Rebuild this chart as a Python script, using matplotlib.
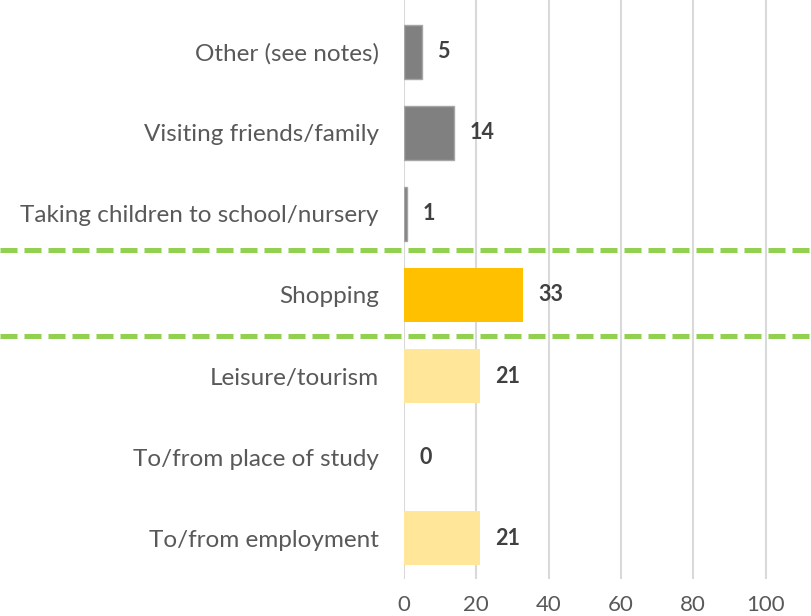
import matplotlib.pyplot as plt
import matplotlib.transforms as mtransforms

categories = ['To/from employment', 'To/from place of study', 'Leisure/tourism',
              'Shopping', 'Taking children to school/nursery',
              'Visiting friends/family', 'Other (see notes)']
values = [21, 0, 21, 33, 1, 14, 5]
colors = ['#FFE699', '#FFE699', '#FFE699', '#FFC000', '#808080', '#808080', '#808080']
edges = ['none', 'none', 'none', 'none', '#A6A6A6', '#A6A6A6', '#A6A6A6']
xticks = [0, 20, 40, 60, 80, 100]

plt.rcParams['font.family'] = ['Lato', 'DejaVu Sans']

fig = plt.figure(figsize=(8.12, 6.16), dpi=100)
ax = fig.add_axes([0.4972, 0.0607, 0.5028, 0.9393])

ypos = list(range(len(categories)))
ax.barh(ypos, values, height=0.66, color=colors, edgecolor=edges, linewidth=1, zorder=3)

for y, v in zip(ypos, values):
    ax.annotate(str(v), (v, y), xytext=(11, 0), textcoords='offset points',
                va='center', ha='left', fontsize=15.5, fontweight='bold', color='#404040')

ax.set_xlim(0, 112.8)
ax.set_ylim(-0.5, 6.64)
ax.set_xticks(xticks)
ax.set_yticks(ypos)
ax.set_yticklabels(categories, fontsize=17.5, color='#595959')
ax.tick_params(axis='x', labelsize=16, labelcolor='#595959', length=0, pad=12)
ax.tick_params(axis='y', length=0, pad=18)
ax.grid(axis='x', color='#D9D9D9', linewidth=1.5, zorder=0)
for s in ax.spines.values():
    s.set_visible(False)

# green dashed lines around Shopping
trans = mtransforms.blended_transform_factory(fig.transFigure, ax.transData)
for yl in [2.49, 3.55]:
    ax.plot([0, 1], [yl, yl], transform=trans, color='#92D050', linewidth=3.6,
            dashes=(3.4, 1.4), clip_on=False, zorder=5)

fig.savefig('out.png', dpi=100)
